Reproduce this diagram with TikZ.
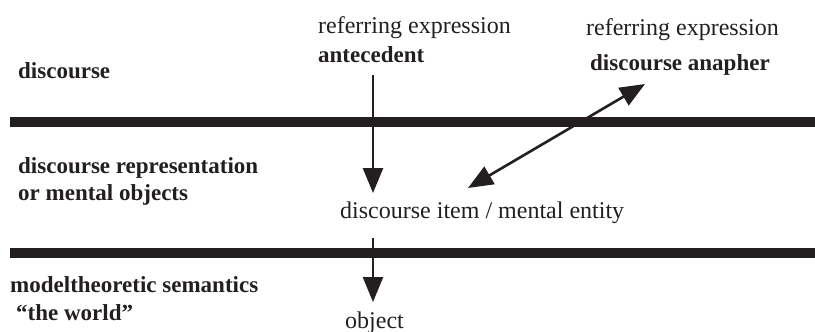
\documentclass[tikz,border=0pt]{standalone}
\usepackage{fontspec}
\setmainfont{Liberation Serif}
\usetikzlibrary{arrows.meta}
\definecolor{ink}{HTML}{231F20}
\tikzset{
  reg/.style={inner sep=0pt, anchor=base west, text=ink, font=\fontsize{24}{28}\selectfont},
  bld/.style={inner sep=0pt, anchor=base west, text=ink, font=\fontsize{23}{28}\selectfont\bfseries},
  bar/.style={fill=ink, draw=none},
  arr/.style={draw=ink, line width=2.6pt, -{Triangle[length=25pt,width=20pt]}},
  darr/.style={draw=ink, line width=2.6pt, {Triangle[length=25pt,width=20pt]}-{Triangle[length=25pt,width=20pt]}}
}
\begin{document}
\begin{tikzpicture}[x=1pt,y=-1pt]
\useasboundingbox (0,0) rectangle (815,332);
% bars
\fill[bar] (10,117) rectangle (815,127);
\fill[bar] (10,248) rectangle (815,258);
% left labels
\node[bld] (l1) at (18,78) {discourse};
\node[bld] (l2a) at (18,173) {discourse representation};
\node[bld] (l2b) at (18,200) {or mental objects};
\node[bld] (l3a) at (10,292) {modeltheoretic semantics};
\node[bld] (l3b) at (16,320) {“the world”};
% top labels
\node[reg] (re1) at (318,33) {referring expression};
\node[bld] (ante) at (318,62) {antecedent};
\node[reg] (re2) at (586,35) {referring expression};
\node[bld] (ana) at (590,70) {discourse anapher};
% middle and bottom
\node[reg] (item) at (340,218) {discourse item / mental entity};
\node[reg] (obj) at (345,328) {object};
% arrow end points
\coordinate (a1s) at (373,75);
\coordinate (a1e) at (373,193);
\coordinate (a3s) at (373,238);
\coordinate (a3e) at (373,302);
\coordinate (d1) at (468,188);
\coordinate (d2) at (645,84);
\draw[arr] (a1s) -- (a1e);
\draw[arr] (a3s) -- (a3e);
\draw[darr] (d1) -- (d2);
\end{tikzpicture}
\end{document}
